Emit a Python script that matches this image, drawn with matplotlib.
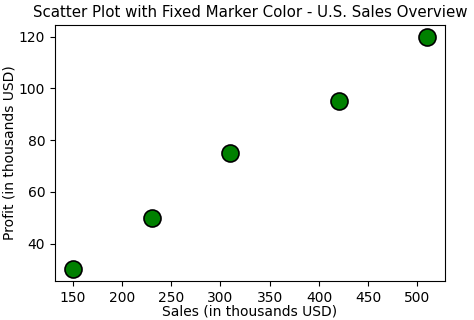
import matplotlib
matplotlib.use("Agg")
import matplotlib.pyplot as plt

# Sales vs profit data (thousands USD)
sales = [150, 230, 310, 420, 510]
profit = [30, 50, 75, 95, 120]

fig = plt.figure(figsize=(4.74, 3.2), dpi=100)
ax = fig.add_axes([55 / 474, 1 - 281 / 320, 390 / 474, 256 / 320])

ax.scatter(sales, profit, color='green', edgecolor='black', s=150, linewidth=1.2)

ax.set_title('Scatter Plot with Fixed Marker Color - U.S. Sales Overview', fontsize=10.8)
ax.set_xlabel('Sales (in thousands USD)', fontsize=10, labelpad=0)
ax.set_ylabel('Profit (in thousands USD)', fontsize=10, labelpad=2)
ax.tick_params(labelsize=10)

fig.savefig('out.png', dpi=100)
